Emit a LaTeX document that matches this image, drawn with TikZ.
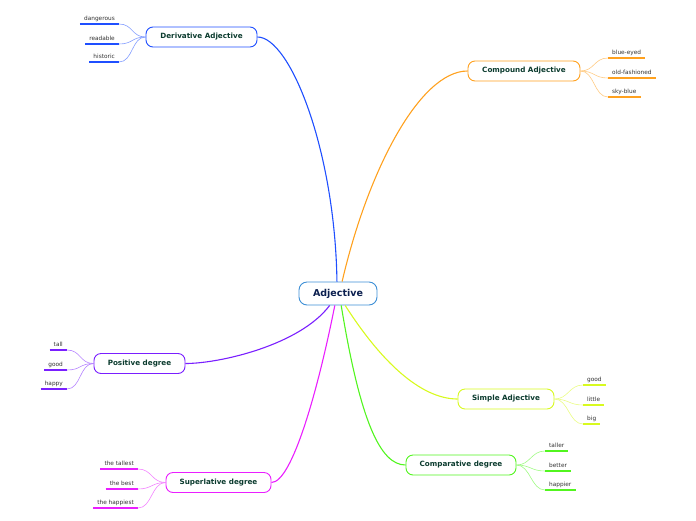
\documentclass[tikz,border=0pt]{standalone}
\usepackage{fontspec}
\setmainfont{DejaVu Sans}
\usepackage{tikz}
\definecolor{rootC}{HTML}{3D8FD6}
\definecolor{rootT}{HTML}{0B1F4F}
\definecolor{topicT}{HTML}{0B3B2E}
\definecolor{leafT}{HTML}{333333}
\definecolor{derC}{HTML}{1F4FFF}
\definecolor{comC}{HTML}{FFA11F}
\definecolor{posC}{HTML}{7A1FFF}
\definecolor{simC}{HTML}{D8FA1F}
\definecolor{cmpC}{HTML}{52F51F}
\definecolor{supC}{HTML}{EA1FFF}
\tikzset{
  root/.style={draw=rootC, line width=0.9pt, rounded corners=8pt, fill=white,
    minimum width=78pt, minimum height=23pt, text=rootT,
    font=\fontsize{9.5}{11}\selectfont\bfseries},
  topic/.style={draw=#1, line width=0.9pt, rounded corners=7pt, fill=white,
    minimum height=20pt, text=topicT, font=\fontsize{7.2}{8}\selectfont\bfseries},
  leaf/.style={inner xsep=4pt, inner ysep=2.5pt, text height=4.4pt, text depth=1.2pt,
    text=leafT, font=\fontsize{5.8}{7}\selectfont},
  branch/.style={draw=#1, line width=1.1pt},
  twig/.style={draw=#1!55, line width=0.6pt},
  under/.style={draw=#1, line width=1.5pt},
}

\begin{document}
\begin{tikzpicture}[x=1pt,y=-1pt]
  \useasboundingbox (0,0) rectangle (696,520);
  % Draw central and topic boxes
  \node[root] (root) at (338,293.5) {Adjective};
  \node[topic=derC, minimum width=111pt] (der) at (201.5,37) {Derivative Adjective};
  \node[topic=comC, minimum width=112pt] (com) at (524,71) {Compound Adjective};
  \node[topic=posC, minimum width=91pt] (pos) at (139.5,363.5) {Positive degree};
  \node[topic=simC, minimum width=96pt] (sim) at (506,399) {Simple Adjective};
  \node[topic=cmpC, minimum width=110pt] (cmp) at (461,465) {Comparative degree};
  \node[topic=supC, minimum width=105pt] (sup) at (218.5,482.5) {Superlative degree};
  % Draw root-to-topic branches
  \draw[branch=derC] (root.95) .. controls (335,150) and (290,37) .. (der.east);
  \draw[branch=comC] (root.71) .. controls (368,170) and (420,71) .. (com.west);
  \draw[branch=posC] (root.235) .. controls (300,345) and (220,363.5) .. (pos.east);
  \draw[branch=supC] (root.255) .. controls (318,390) and (292,482.5) .. (sup.east);
  \draw[branch=cmpC] (root.285) .. controls (360,420) and (380,465) .. (cmp.west);
  \draw[branch=simC] (root.301) .. controls (380,360) and (420,399) .. (sim.west);
  % Draw leaves on the left
  \foreach \txt/\y [count=\i] in {dangerous/24, readable/44, historic/62} {
    \node[leaf, anchor=south east] (der\i) at (119,\y) {\txt};
    \draw[under=derC] (der\i.south west) -- (der\i.south east);
    \draw[twig=derC] (der.west) .. controls +(-14,0) and +(14,0) .. (der\i.south east); }
  \foreach \txt/\y [count=\i] in {tall/350, good/370, happy/389} {
    \node[leaf, anchor=south east] (pos\i) at (67,\y) {\txt};
    \draw[under=posC] (pos\i.south west) -- (pos\i.south east);
    \draw[twig=posC] (pos.west) .. controls +(-14,0) and +(14,0) .. (pos\i.south east); }
  \foreach \txt/\y [count=\i] in {the tallest/469, the best/489, the happiest/508} {
    \node[leaf, anchor=south east] (sup\i) at (138,\y) {\txt};
    \draw[under=supC] (sup\i.south west) -- (sup\i.south east);
    \draw[twig=supC] (sup.west) .. controls +(-14,0) and +(14,0) .. (sup\i.south east); }
  % Draw leaves on the right
  \foreach \txt/\y [count=\i] in {blue-eyed/58, old-fashioned/78, sky-blue/97} {
    \node[leaf, anchor=south west] (com\i) at (608,\y) {\txt};
    \draw[under=comC] (com\i.south west) -- (com\i.south east);
    \draw[twig=comC] (com.east) .. controls +(14,0) and +(-14,0) .. (com\i.south west); }
  \foreach \txt/\y [count=\i] in {good/385, little/405, big/424} {
    \node[leaf, anchor=south west] (sim\i) at (583,\y) {\txt};
    \draw[under=simC] (sim\i.south west) -- (sim\i.south east);
    \draw[twig=simC] (sim.east) .. controls +(14,0) and +(-14,0) .. (sim\i.south west); }
  \foreach \txt/\y [count=\i] in {taller/451, better/471, happier/490} {
    \node[leaf, anchor=south west] (cmp\i) at (545,\y) {\txt};
    \draw[under=cmpC] (cmp\i.south west) -- (cmp\i.south east);
    \draw[twig=cmpC] (cmp.east) .. controls +(14,0) and +(-14,0) .. (cmp\i.south west); }
\end{tikzpicture}
\end{document}
